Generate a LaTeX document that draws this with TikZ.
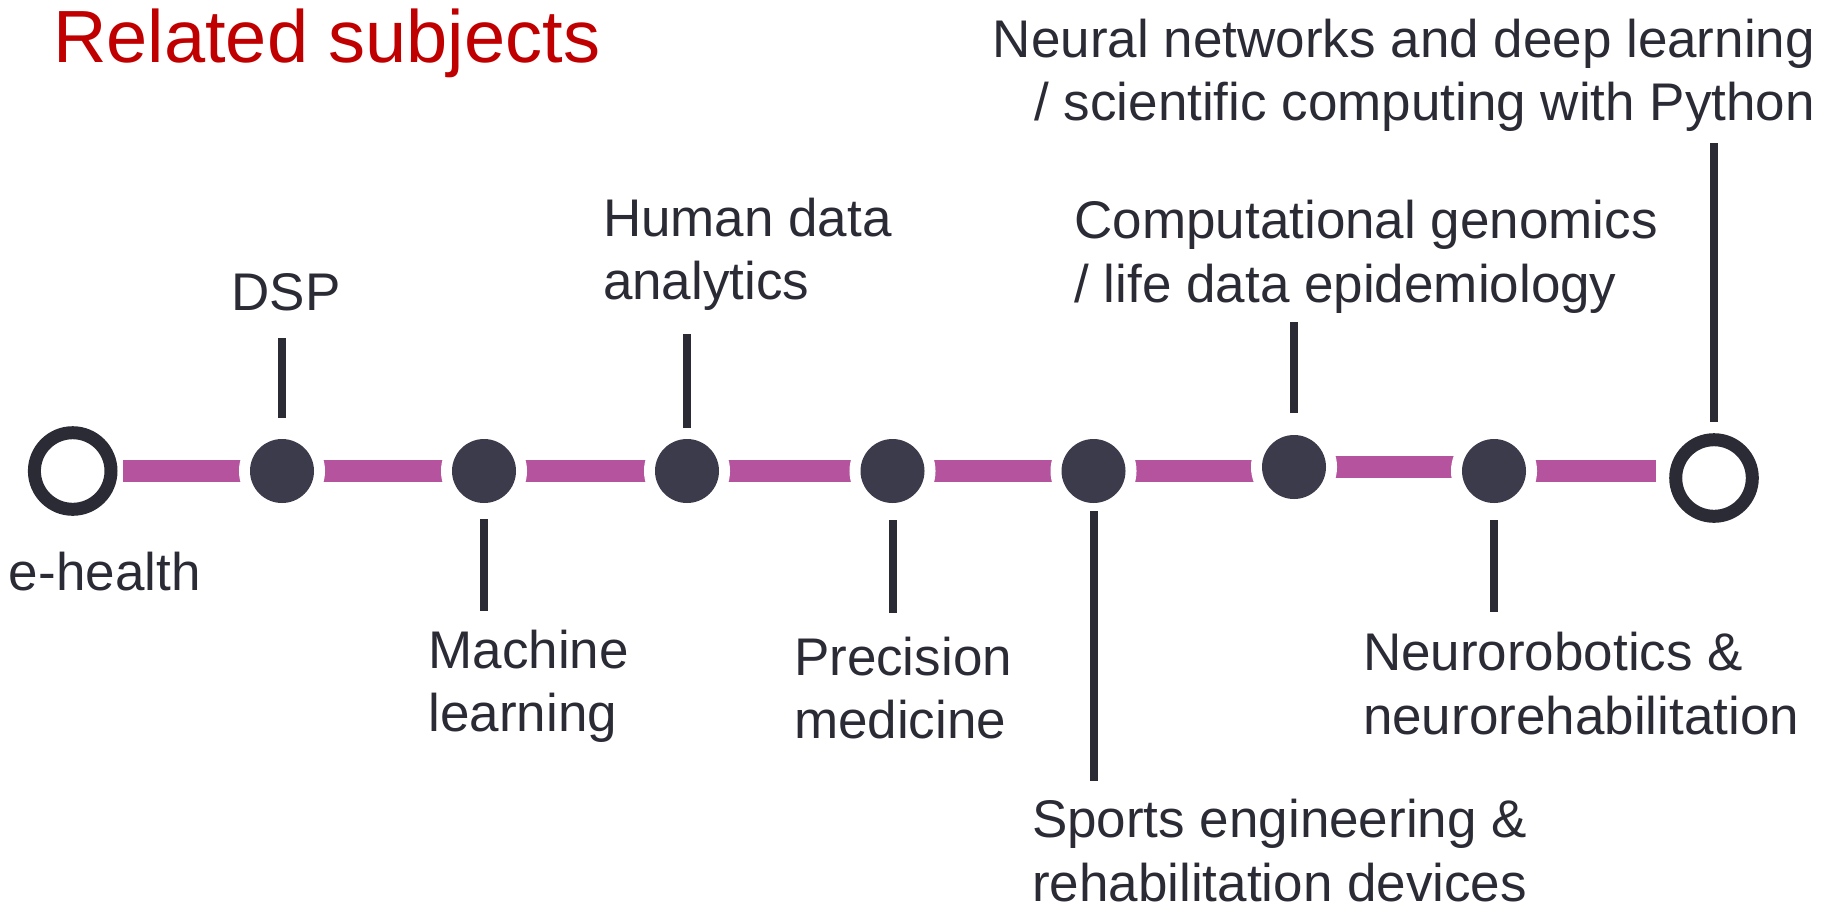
\documentclass[tikz,border=0pt]{standalone}
\usepackage{fontspec}
\setmainfont{Liberation Sans}
\usetikzlibrary{backgrounds}
\definecolor{ink}{HTML}{2B2B36}
\definecolor{dotc}{HTML}{3C3B4C}
\definecolor{barc}{HTML}{B5539F}
\definecolor{titlec}{HTML}{C00000}
\begin{document}
\begin{tikzpicture}[x=1pt,y=-1pt,
  dot/.style={circle,fill=dotc,minimum size=64pt,inner sep=0pt,outer sep=0pt,
    preaction={draw=white,line width=22pt}},
  ring/.style={circle,draw=ink,line width=13pt,minimum size=76.6pt,inner sep=0pt,outer sep=0pt},
  bar/.style={draw=barc,line width=22pt},
  tick/.style={draw=ink,line width=8pt},
  lbl/.style={font=\fontsize{53}{63.7}\selectfont,text=ink,inner sep=0pt,outer sep=0pt,align=left,anchor=base west}
]
\useasboundingbox (0,0) rectangle (1827,903);
\node[ring] (eh) at (72.7,471) {};
\node[dot] (dsp) at (282,471) {};
\node[dot] (ml) at (484,471) {};
\node[dot] (hda) at (687,471) {};
\node[dot] (pm) at (892.5,471) {};
\node[dot] (se) at (1093.5,471) {};
\node[dot] (cg) at (1294,467) {};
\node[dot] (nr) at (1494,471) {};
\node[ring] (nn) at (1714,478) {};

\begin{scope}[on background layer]
\draw[bar,shorten <=12pt] (eh) -- (dsp);
\draw[bar] (dsp) -- (ml);
\draw[bar] (ml) -- (hda);
\draw[bar] (hda) -- (pm);
\draw[bar] (pm) -- (se);
\draw[bar] (se) -- (se -| cg);
\draw[bar] (cg) -- (cg -| nr);
\draw[bar,shorten >=58pt] (nr) -- (nr -| nn);
\end{scope}

\node[font=\fontsize{74}{88}\selectfont,text=titlec,inner sep=0pt,anchor=base west] (title) at (53,62.3) {Related subjects};
\node[lbl] (leh) at (9,590) {e-health};
\node[lbl] (ldsp) at (231.5,310) {DSP};
\node[lbl] (lml) at (428.5,731.7) {Machine\\learning};
\node[lbl] (lhda) at (603,299.7) {Human data\\analytics};
\node[lbl] (lpm) at (794,738.7) {Precision\\medicine};
\node[lbl] (lse) at (1032,901) {Sports engineering \&\\rehabilitation devices};
\node[lbl] (lcg) at (1074.5,302.1) {Computational genomics\\/ life data epidemiology};
\node[lbl] (lnr) at (1363,734.4) {Neurorobotics \&\\neurorehabilitation};
\node[lbl,align=right,anchor=base east] (lnn) at (1815,120.7) {Neural networks and deep learning\\/ scientific computing with Python};

\draw[tick] (dsp |- 0,418) -- (dsp |- 0,338);
\draw[tick] (ml |- 0,519) -- (ml |- 0,611);
\draw[tick] (hda |- 0,428) -- (hda |- 0,334);
\draw[tick] (pm |- 0,520) -- (pm |- 0,613);
\draw[tick] (se |- 0,511) -- (se |- 0,781);
\draw[tick] (cg |- 0,413) -- (cg |- 0,322);
\draw[tick] (nr |- 0,520) -- (nr |- 0,612);
\draw[tick] (nn |- 0,422) -- (nn |- 0,143);
\end{tikzpicture}
\end{document}
